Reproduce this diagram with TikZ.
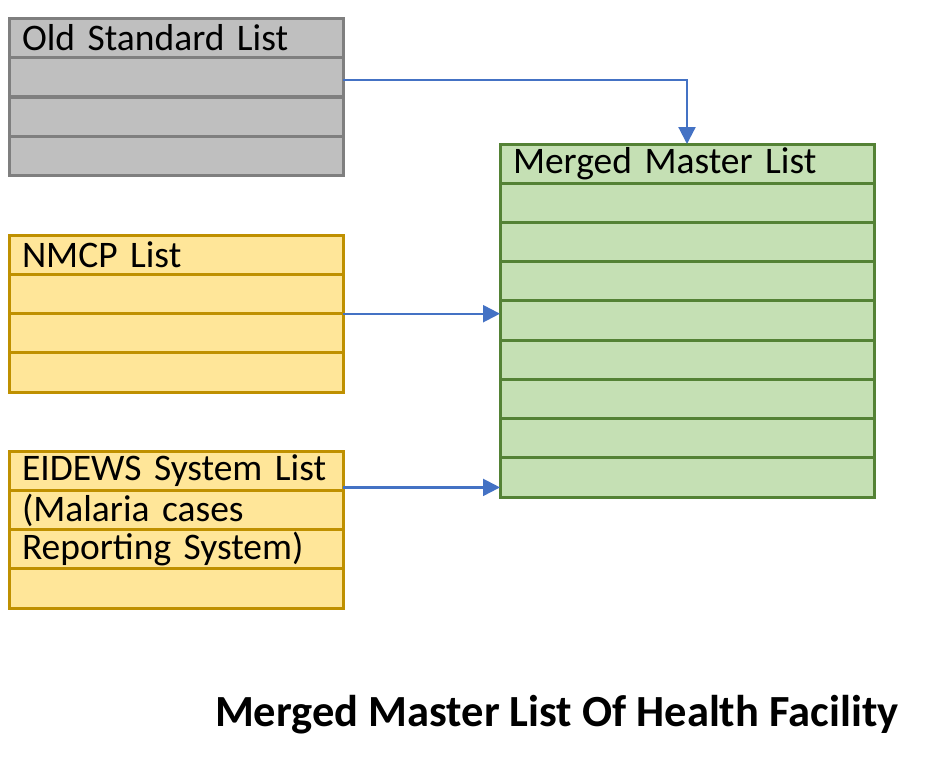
\documentclass[tikz,border=0pt]{standalone}
\usepackage{fontspec}
\setmainfont{Carlito}
\usetikzlibrary{arrows.meta}

\definecolor{oldfill}{HTML}{BFBFBF}
\definecolor{oldline}{HTML}{7F7F7F}
\definecolor{srcfill}{HTML}{FFE699}
\definecolor{srcline}{HTML}{BF9000}
\definecolor{mrgfill}{HTML}{C5E0B4}
\definecolor{mrgline}{HTML}{548235}
\definecolor{linkblue}{HTML}{4472C4}

\begin{document}
\begin{tikzpicture}[x=1pt, y=-1pt,
	listrow/.style={draw, line width=3pt, anchor=north west, inner xsep=13pt, inner ysep=0pt, outer sep=0pt,
		minimum height=39.4pt, align=left, font=\fontsize{37.5}{38}\selectfont},
	oldrow/.style={listrow, fill=oldfill, draw=oldline, text width=308pt},
	srcrow/.style={listrow, fill=srcfill, draw=srcline, text width=308pt},
	mrgrow/.style={listrow, fill=mrgfill, draw=mrgline, text width=348pt},
	link/.style={draw=linkblue, line width=2.2pt, -{Triangle[length=17pt, width=17pt]}}]
	%%%%% START %%%%%
	\useasboundingbox (0, 0) rectangle (936, 764);
	
	% source lists
	\foreach \i/\t in {1/{Old Standard List}, 2/, 3/, 4/}
		\node[oldrow] (old-\i) at (9, {18+(\i-1)*39.5}) {\t};
	\foreach \i/\t in {1/{NMCP List}, 2/, 3/, 4/}
		\node[srcrow] (nmcp-\i) at (9, {235+(\i-1)*39.3}) {\t};
	\foreach \i/\t in {1/{EIDEWS System List}, 2/{(Malaria cases}, 3/{Reporting System)}, 4/}
		\node[srcrow] (eidews-\i) at (9, {451+(\i-1)*39.3}) {\t};
	
	% merged list
	\foreach \i/\t in {1/{Merged Master List}, 2/, 3/, 4/, 5/, 6/, 7/, 8/, 9/}
		\node[mrgrow] (merged-\i) at (500, {144+(\i-1)*39.2}) {\t};
	
	% connectors
	\coordinate (oldout) at ([yshift=-2.5pt]old-2.east);
	\coordinate (eidewsout) at ([yshift=3pt]eidews-1.south east);
	\draw[link] (oldout) -| (merged-1.north);
	\draw[link] (nmcp-2.south east) -- (nmcp-2.south east -| merged-1.west);
	\draw[link] (eidewsout) -- (eidewsout -| merged-1.west);
	
	\node[anchor=east, font=\bfseries\fontsize{44.5}{46}\selectfont] (title) at (902, 715) {Merged Master List Of Health Facility};
	%%%%% END %%%%%
\end{tikzpicture}
\end{document}
